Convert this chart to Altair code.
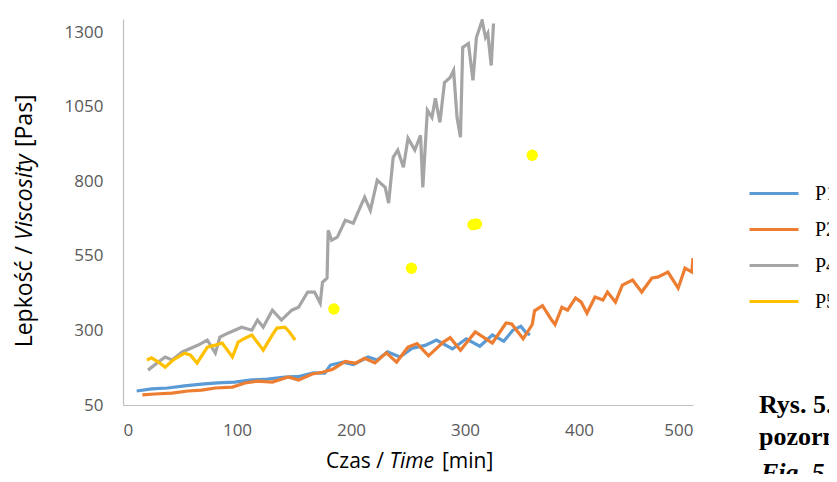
import altair as alt
import pandas as pd

# ---------------- data ----------------
series_names = ["P1", "P2", "P4", "P5"]
series_colors = ["#5B9BD5", "#ED7D31", "#A5A5A5", "#FFC000"]

p1_t = [12, 25, 39, 54, 69, 83, 98, 113, 127, 142, 155, 167, 177, 182, 193, 202, 215, 223,
        232, 243, 254, 265, 275, 289, 301, 313, 324, 334, 342, 349, 353, 357]
p1_v = [97, 104, 107, 114, 120, 124, 127, 134, 137, 144, 146, 158, 157, 184, 194, 186, 211, 201,
        228, 211, 241, 250, 268, 238, 272, 247, 285, 264, 301, 314, 295, 285]

p2_t = [17, 28, 43, 57, 69, 81, 96, 107, 118, 131, 145, 154, 166, 175, 184, 195, 204, 212, 221,
        231, 240, 250, 258, 268, 281, 287, 296, 309, 324, 336, 341, 351, 359, 361, 368, 376, 379,
        385, 390, 397, 402, 407, 414, 421, 425, 432, 438, 447, 455, 464, 469, 478, 487, 493, 499, 500]
p2_v = [84, 87, 90, 97, 100, 107, 110, 124, 130, 127, 144, 134, 154, 160, 170, 196, 190, 207, 191,
        225, 194, 244, 256, 215, 261, 276, 234, 295, 258, 325, 322, 272, 320, 366, 383, 335, 320,
        378, 368, 409, 395, 358, 412, 402, 429, 395, 452, 469, 429, 476, 479, 496, 442, 509, 496, 543]

p4_t = [22, 31, 37, 43, 52, 60, 66, 74, 81, 85, 92, 98, 104, 113, 118, 123, 131, 139, 148, 154,
        162, 168, 173, 175, 179, 180, 183, 188, 195, 202, 208, 212, 217, 223, 230, 233, 237, 241,
        246, 250, 256, 261, 263, 267, 271, 274, 278, 282, 287, 290, 293, 296, 298, 303, 307, 310,
        315, 318, 320, 323, 325]
p4_v = [167, 194, 211, 201, 228, 241, 251, 268, 224, 278, 291, 301, 311, 301, 335, 311, 368, 335,
        368, 378, 429, 429, 392, 462, 476, 636, 603, 613, 670, 660, 713, 747, 703, 804, 780, 727,
        881, 905, 848, 945, 905, 955, 780, 1039, 1015, 1079, 998, 1132, 1149, 1173, 1015, 948,
        1250, 1263, 1139, 1283, 1340, 1283, 1297, 1189, 1330]

p5_t = [21, 25, 31, 37, 44, 54, 59, 65, 74, 81, 87, 96, 101, 107, 113, 123, 131, 135, 142, 146, 151]
p5_v = [201, 208, 194, 177, 201, 224, 218, 191, 244, 251, 258, 211, 261, 274, 285, 234, 285, 308,
        311, 295, 268]

dots_t = [185, 253, 307, 310, 359]
dots_v = [372, 509, 655, 657, 888]

x_ticks = [0, 100, 200, 300, 400, 500]
y_ticks = [50, 300, 550, 800, 1050, 1300]

# ---------------- tables ----------------
rows = []
for name, ts, vs in [("P1", p1_t, p1_v), ("P2", p2_t, p2_v), ("P4", p4_t, p4_v), ("P5", p5_t, p5_v)]:
    for i, (t, v) in enumerate(zip(ts, vs)):
        rows.append({"series": name, "t": t, "v": v, "order": i})
df = pd.DataFrame(rows)
dots = pd.DataFrame({"t": dots_t, "v": dots_v})

W, H = 570, 386
TICK_FONT = "Open Sans"
TICK_COLOR = "#595959"

xscale = alt.Scale(domain=[0, 500], nice=False, zero=False)
yscale = alt.Scale(domain=[50, 1345], nice=False, zero=False)

x_axis = alt.Axis(values=x_ticks, format="d", title=None, grid=False, ticks=False, tickSize=0,
                  labelFont=TICK_FONT, labelFontSize=17, labelColor=TICK_COLOR,
                  labelPadding=17, domainColor="#BFBFBF", domainWidth=1.2)
y_axis = alt.Axis(values=y_ticks, format="d", title=None, grid=False, ticks=False, tickSize=0,
                  labelFont=TICK_FONT, labelFontSize=17, labelColor=TICK_COLOR,
                  labelPadding=20, domainColor="#BFBFBF", domainWidth=1.2)

lines = alt.Chart(df).mark_line(strokeWidth=3.2, clip=True).encode(
    x=alt.X("t:Q", scale=xscale, axis=x_axis),
    y=alt.Y("v:Q", scale=yscale, axis=y_axis),
    color=alt.Color("series:N",
                    scale=alt.Scale(domain=series_names, range=series_colors),
                    legend=alt.Legend(orient="none", legendX=625, legendY=148.5, title=None,
                                      padding=0, symbolType="stroke", symbolSize=2401,
                                      symbolStrokeWidth=3, labelFont="Liberation Serif",
                                      labelFontSize=20, labelColor="black", labelOffset=15,
                                      rowPadding=-10)),
    order="order:Q",
)

points = alt.Chart(dots).mark_circle(size=130, color="#FFFF00", opacity=1).encode(
    x=alt.X("t:Q", scale=xscale),
    y=alt.Y("v:Q", scale=yscale),
)

one = pd.DataFrame({"a": [0]})


def txt(s, x, y, **kw):
    return alt.Chart(one).mark_text(text=s, **kw).encode(x=alt.value(x), y=alt.value(y))


TF = "Open Sans"
# x-axis title: "Czas / Time [min]"
XT_Y = 442.5
xt1 = txt("Czas /", 261, XT_Y, font=TF, fontSize=21, align="right", baseline="middle", color="black")
xt2 = txt("Time", 266.5, XT_Y, font=TF, fontSize=21, fontStyle="italic", align="left", baseline="middle", color="black")
xt3 = txt("[min]", 319, XT_Y, font=TF, fontSize=21, align="left", baseline="middle", color="black")
# y-axis title: "Lepkość / Viscosity [Pas]" (rotated)
yt1 = txt("Lepkość /", -98, 227, font=TF, fontSize=23, angle=270, align="right", baseline="middle", color="black")
yt2 = txt("Viscosity", -98, 221, font=TF, fontSize=23, angle=270, fontStyle="italic", align="left", baseline="middle", color="black")
yt3 = txt("[Pas]", -98, 128, font=TF, fontSize=23, angle=270, align="left", baseline="middle", color="black")
# caption fragments at the right edge
CF = "Liberation Serif"
c1 = txt("Rys. 5. Lepkość", 636, 386, font=CF, fontSize=26, fontWeight="bold", align="left", baseline="middle", color="black")
c2 = txt("pozorna", 636, 418, font=CF, fontSize=26, fontWeight="bold", align="left", baseline="middle", color="black")
c3 = txt("Fig. 5. Apparent", 638, 454, font=CF, fontSize=26, fontWeight="bold", fontStyle="italic", align="left", baseline="middle", color="black")

chart = alt.layer(lines, points, xt1, xt2, xt3, yt1, yt2, yt3, c1, c2, c3).properties(
    width=W, height=H,
    autosize=alt.AutoSizeParams(type="none"),
    padding={"left": 115, "top": 11, "right": 136, "bottom": 69},
    background="white",
).configure_view(stroke=None)

chart.save("out.html", embed_options={"renderer": "svg", "actions": False})
